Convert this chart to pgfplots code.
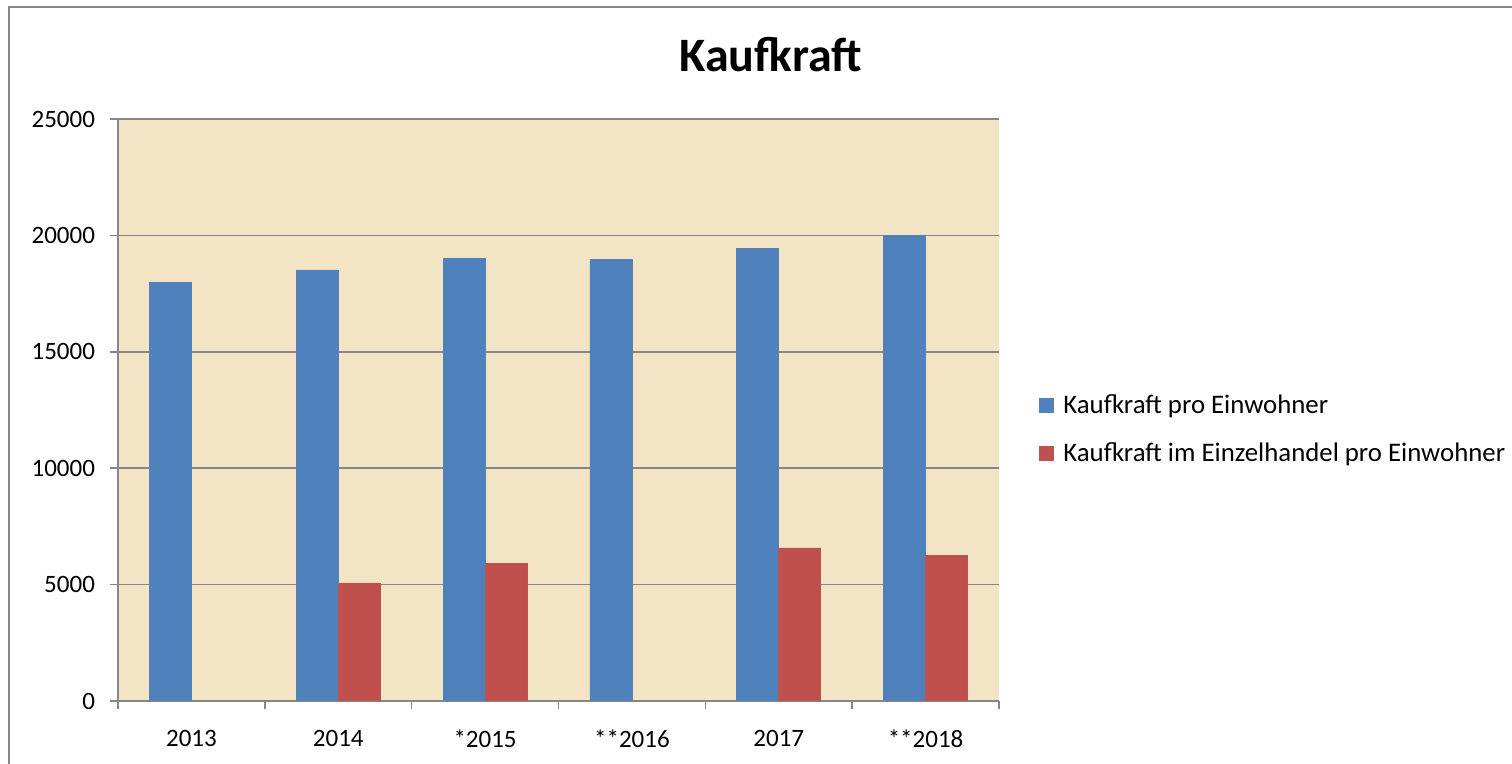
\documentclass[border=0pt]{standalone}
\usepackage{pgfplots}
\pgfplotsset{compat=1.18}
\usepackage{fontspec}
\setmainfont{Carlito}
\definecolor{kbg}{RGB}{242,228,197}
\definecolor{kblue}{RGB}{79,129,189}
\definecolor{kred}{RGB}{192,80,77}
\definecolor{kgrid}{RGB}{134,134,134}
\begin{document}
\begin{tikzpicture}
\useasboundingbox (0,0) rectangle (756pt,382pt);
% outer border (left and top)
\draw[kgrid, line width=1pt] (4.5pt,0pt) -- (4.5pt,378.5pt) -- (756pt,378.5pt);
\node[font=\fontsize{24pt}{28pt}\selectfont\bfseries, anchor=base] at (385.5pt,346pt) {Kaufkraft};
\begin{axis}[
  at={(59pt,31.5pt)}, anchor=south west,
  scale only axis,
  width=440.5pt, height=291pt,
  ybar, ybar=0pt, bar width=21pt,
  xmin=-0.5, xmax=5.5,
  ymin=0, ymax=25000,
  xtick={0,1,2,3,4,5},
  xticklabels={\mbox{2013},\mbox{2014},\mbox{*2015},\mbox{**2016},\mbox{2017},\mbox{**2018}},
  minor xtick={-0.5,0.5,1.5,2.5,3.5,4.5,5.5},
  ytick={0,5000,10000,15000,20000,25000},
  scaled y ticks=false,
  major x tick style={draw=none},
  minor x tick style={draw=kgrid, line width=0.8pt},
  y tick style={draw=kgrid, line width=0.8pt},
  tick align=outside,
  major tick length=4pt, minor tick length=4pt,
  axis x line*=bottom, axis y line*=left,
  axis line style={-, draw=kgrid, line width=0.8pt},
  ymajorgrids, grid style={draw=kgrid, line width=0.8pt},
  axis background/.style={fill=kbg},
  /pgf/number format/assume math mode=true,
  /pgf/number format/1000 sep={},
  tick label style={font=\fontsize{12.5pt}{15pt}\selectfont, text=black},
  yticklabel style={xshift=-4pt},
  xticklabel style={yshift=-7pt},
  legend style={at={(1.045,0.467)}, anchor=west, draw=none, fill=none,
    font=\fontsize{13.4pt}{16pt}\selectfont, row sep=9pt, inner sep=0pt,
    legend cell align=left},
  legend image code/.code={\fill[#1] (0pt,-3.5pt) rectangle (7pt,3.5pt); \path[draw=none,fill=none] (0pt,0pt) rectangle (10pt,0pt);},
]
\addplot[fill=kblue, draw=kblue!90!gray, line width=0.3pt] coordinates {
 (0,17980) (1,18520) (2,18995) (3,18965) (4,19425) (5,19985)};
\addplot[fill=kred, draw=kred!90!gray, line width=0.3pt] coordinates {
 (1,5070) (2,5915) (4,6575) (5,6260)};
\legend{Kaufkraft pro Einwohner, Kaufkraft im Einzelhandel pro Einwohner}
\end{axis}
\end{tikzpicture}
\end{document}
